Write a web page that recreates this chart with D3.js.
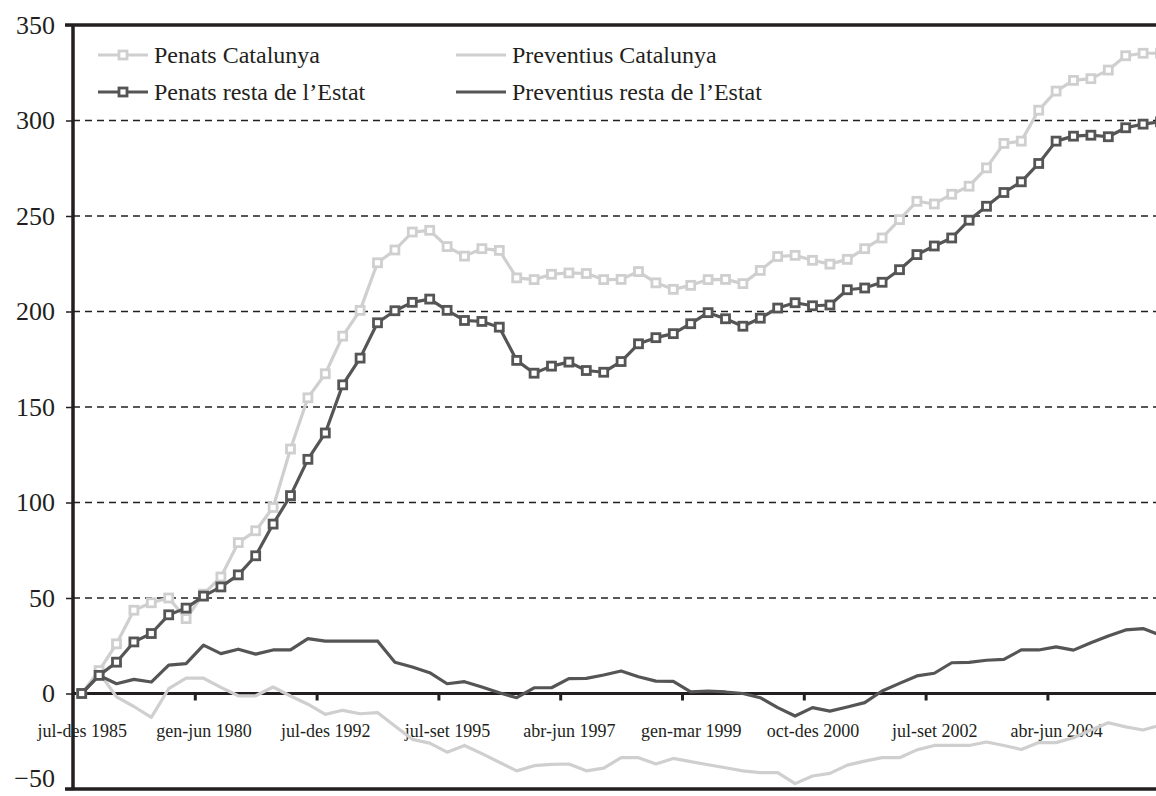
<!DOCTYPE html>
<html>
<head>
<meta charset="utf-8">
<script src="https://cdn.jsdelivr.net/npm/d3@7"></script>
<style>
  body { margin: 0; background: #fff; }
  svg { display: block; }
  svg text { font-family: "Liberation Serif", "Times New Roman", serif; }
  .grid line { stroke: #231f20; stroke-width: 1.4; stroke-dasharray: 7 5; }
</style>
</head>
<body>
<script>
// Values, one per period (63 periods)
const tickLabels = ['jul-des 1985', 'gen-jun 1980', 'jul-des 1992', 'jul-set 1995', 'abr-jun 1997',
  'gen-mar 1999', 'oct-des 2000', 'jul-set 2002', 'abr-jun 2004'];
const labelEvery = 7;
const yTicks = [-50, 0, 50, 100, 150, 200, 250, 300, 350];

const penatsCat = [0, 12, 26, 43.6, 47.5, 50, 39.2, 52, 61, 79,
  85.2, 97.4, 128, 154.8, 167.4, 187.1, 200.6, 225.5, 232.2, 241.6,
  242.5, 234, 229, 232.9, 232, 217.6, 216.7, 219.5, 220.2, 219.9,
  216.7, 216.8, 220.9, 215, 211.6, 213.7, 216.7, 216.8, 214.6, 221.5,
  228.8, 229.4, 226.8, 224.8, 227.3, 232.9, 238.5, 248.1, 257.7, 256.3,
  261.4, 265.6, 275.2, 288, 289.2, 305.4, 315.4, 321, 321.9, 326.4,
  333.9, 335.2, 335.2];
const prevCat = [0, 11, -1.8, -6.8, -12.5, 2.5, 8, 8, 3.2, -1.2,
  -1.2, 3.4, -1.3, -5.6, -10.9, -8.8, -10.6, -10, -17, -24,
  -26, -30.7, -27.2, -31.5, -36, -40.5, -37.8, -37.1, -36.9, -40.5,
  -39.1, -33.6, -33.6, -36.9, -34, -35.7, -37.3, -38.9, -40.5, -41.4,
  -41.4, -47.2, -43.2, -41.8, -37.5, -35.4, -33.6, -33.6, -29.5, -27.2,
  -27.2, -27.2, -25.4, -27.2, -29.3, -25.7, -25.7, -23.2, -19.1, -15.3,
  -17.5, -19.1, -16.5];
const penatsResta = [0, 9.5, 16.4, 27, 31.4, 41.2, 44.7, 51, 55.8, 62.1,
  72.1, 88.7, 103.6, 122.6, 136.4, 161.6, 175.6, 194.1, 200.4, 204.8,
  206.5, 200.6, 195.3, 194.8, 191.8, 174.4, 167.7, 171.4, 173.5, 169.1,
  168.2, 173.8, 183.1, 186.3, 188.4, 193.6, 199.4, 196.2, 192.3, 196.5,
  201.8, 204.6, 203, 203.4, 211.4, 212.3, 215.3, 221.9, 229.8, 234.3,
  238.5, 247.8, 255.1, 262.3, 267.9, 277.5, 289.2, 291.8, 292.3, 291.5,
  296.2, 298.1, 299.3];
const prevResta = [0, 9.5, 5.1, 7.4, 6, 14.9, 15.6, 25.3, 20.9, 23.2,
  20.6, 22.8, 22.8, 28.7, 27.4, 27.4, 27.4, 27.5, 16.4, 13.9,
  10.9, 5.1, 6.2, 3.4, 0.4, -2.2, 3, 3, 7.8, 7.9,
  9.7, 11.8, 8.8, 6.5, 6.3, 0.8, 1.3, 0.8, 0, -2.2,
  -7.4, -11.8, -7.4, -9.2, -7.1, -4.8, 1.3, 5.3, 9.2, 10.6,
  16.1, 16.3, 17.4, 17.9, 22.8, 22.8, 24.4, 22.7, 26.6, 30.1,
  33.3, 34, 30.5];

const series = [
  {name: 'Preventius Catalunya', values: prevCat, color: '#cfcfcf', marker: false},
  {name: 'Penats Catalunya', values: penatsCat, color: '#cfcfcf', marker: true},
  {name: 'Preventius resta de l\u2019Estat', values: prevResta, color: '#555555', marker: false},
  {name: 'Penats resta de l\u2019Estat', values: penatsResta, color: '#555555', marker: true}
];

const W = 1156, H = 796;
const plotLeft = 73, plotTop = 25, plotBottom = 789;
const n = penatsCat.length;
const band = 17.4;

const svg = d3.select('body').append('svg').attr('width', W).attr('height', H);

// category axis: index i sits at the middle of its band
const x = d3.scaleLinear().domain([-0.5, n - 0.5]).range([plotLeft, plotLeft + n * band]);
const y = d3.scaleLinear().domain([-50, 350]).range([plotBottom, plotTop]);

// dashed gridlines
svg.append('g').attr('class', 'grid')
  .selectAll('line')
  .data(yTicks.filter(d => d > 0 && d < 350)).enter()
  .append('line')
  .attr('x1', plotLeft).attr('x2', W)
  .attr('y1', d => y(d)).attr('y2', d => y(d));

// y axis with outward ticks
const yAxis = svg.append('g').attr('transform', 'translate(' + plotLeft + ',0)')
  .call(d3.axisLeft(y).tickValues(yTicks).tickSize(7).tickPadding(11).tickFormat(d3.format('d')))
  .attr('font-family', null).attr('font-size', null);
yAxis.select('.domain').remove();
yAxis.selectAll('line').attr('stroke', '#231f20').attr('stroke-width', 1.5);
yAxis.selectAll('text').attr('font-size', 26).attr('fill', '#231f20')
  .attr('dy', d => d === -50 ? '-0.08em' : '0.32em');

// plot frame
const frame = svg.append('g').attr('stroke', '#231f20').attr('stroke-width', 3.5);
frame.append('line').attr('x1', plotLeft - 8).attr('x2', W).attr('y1', y(350)).attr('y2', y(350));
frame.append('line').attr('x1', plotLeft - 8).attr('x2', W).attr('y1', y(-50)).attr('y2', y(-50));
frame.append('line').attr('x1', plotLeft).attr('x2', plotLeft).attr('y1', y(350)).attr('y2', y(-50));

// zero axis: ticks between categories, labels on every 7th category
const boundaries = d3.range(labelEvery, n, labelEvery).map(i => i - 0.5);
const xTicks = svg.append('g').attr('transform', 'translate(0,' + y(0) + ')')
  .call(d3.axisBottom(x).tickValues(boundaries).tickSize(7).tickFormat(''));
xTicks.select('.domain').remove();
xTicks.selectAll('line').attr('stroke', '#231f20').attr('stroke-width', 3);
svg.append('line').attr('x1', plotLeft).attr('x2', W).attr('y1', y(0)).attr('y2', y(0))
  .attr('stroke', '#231f20').attr('stroke-width', 3);

const xLabels = svg.append('g').attr('transform', 'translate(0,' + y(0) + ')')
  .call(d3.axisBottom(x).tickValues(tickLabels.map((d, i) => i * labelEvery))
    .tickSize(0).tickPadding(31).tickFormat(d => tickLabels[d / labelEvery]))
  .attr('font-family', null).attr('font-size', null);
xLabels.select('.domain').remove();
xLabels.selectAll('text').attr('font-size', 18).attr('fill', '#231f20');

// lines and markers
const line = d3.line().x((d, i) => x(i)).y(d => y(d));
series.forEach(s => {
  svg.append('path').datum(s.values)
    .attr('fill', 'none').attr('stroke', s.color).attr('stroke-width', 3.2)
    .attr('stroke-linejoin', 'round')
    .attr('d', line);
  if (s.marker) {
    svg.append('g').selectAll('rect')
      .data(s.values).enter()
      .append('rect')
      .attr('x', (d, i) => x(i) - 4).attr('y', d => y(d) - 4)
      .attr('width', 8).attr('height', 8)
      .attr('fill', '#fff').attr('stroke', s.color).attr('stroke-width', 2.8);
  }
});

// legend, two columns
const legendItems = [
  {s: series[1], x: 98, y: 55},
  {s: series[3], x: 98, y: 92},
  {s: series[0], x: 456, y: 55},
  {s: series[2], x: 456, y: 92}
];
const lg = svg.append('g');
legendItems.forEach(d => {
  lg.append('line').attr('x1', d.x).attr('x2', d.x + 50).attr('y1', d.y).attr('y2', d.y)
    .attr('stroke', d.s.color).attr('stroke-width', 3.2);
  if (d.s.marker) {
    lg.append('rect').attr('x', d.x + 21).attr('y', d.y - 4).attr('width', 8).attr('height', 8)
      .attr('fill', '#fff').attr('stroke', d.s.color).attr('stroke-width', 2.8);
  }
  lg.append('text').attr('x', d.x + 56).attr('y', d.y + 8)
    .attr('font-size', 24).attr('fill', '#231f20')
    .text(d.s.name);
});
</script>
</body>
</html>
